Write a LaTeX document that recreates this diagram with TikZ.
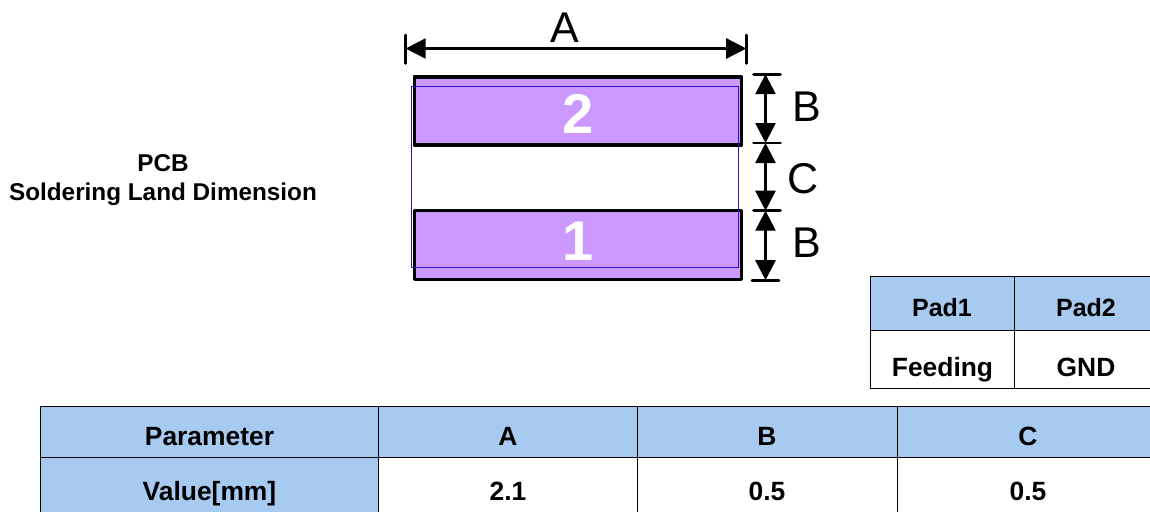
\documentclass[tikz,border=0pt]{standalone}
\usepackage{fontspec}
\setmainfont{Liberation Sans}
\usetikzlibrary{arrows.meta}
\definecolor{headblue}{HTML}{A6CAF0}
\definecolor{padviolet}{HTML}{CC99FF}
\definecolor{outlineblue}{HTML}{2A10C8}
\tikzset{
  pad/.style={draw=black,line width=3.4pt,fill=padviolet,line join=round},
  outlinebox/.style={draw=outlineblue,line width=1pt},
  dimtick/.style={draw=black,line width=2.8pt,line cap=round},
  dimline/.style={draw=black,line width=2.6pt,{Triangle[length=20pt,width=20pt]}-{Triangle[length=20pt,width=20pt]},shorten <=0pt,shorten >=0pt},
  dimlabel/.style={font=\fontsize{43}{43}\selectfont,anchor=base,inner sep=0pt},
  padno/.style={font=\fontsize{56}{56}\selectfont\bfseries,text=white,anchor=base,inner sep=0pt},
  cellh/.style={draw=black,line width=1pt,fill=headblue},
  cellw/.style={draw=black,line width=1pt,fill=white},
  celltext/.style={font=\fontsize{26.4}{26.4}\selectfont\bfseries,anchor=base,inner sep=0pt},
  padtext/.style={font=\fontsize{25}{25}\selectfont\bfseries,anchor=base,inner sep=0pt},
  title/.style={font=\fontsize{24.3}{29}\selectfont\bfseries,align=center,inner sep=0pt,anchor=center}
}
\begin{document}
\begin{tikzpicture}[x=1pt,y=-1pt]
\useasboundingbox[fill=white] (0,0) rectangle (1150,511);
% pads
\path[pad] (414.2,76.8) rectangle (741.6,144.8);
\path[pad] (414.2,210.7) rectangle (741.6,279.2);
\path[outlinebox] (411.5,86.3) rectangle (738.2,267.4);
\node[padno] (n2) at (578.5,133.5) {2};
\node[padno] (n1) at (578,260.5) {1};
% dimension A
\coordinate (al1) at (405.7,35); \coordinate (al2) at (405.7,63.5);
\coordinate (ar1) at (746.2,35); \coordinate (ar2) at (746.2,63.5);
\coordinate (am1) at (405.7,48.5); \coordinate (am2) at (746.2,48.5);
\draw[dimtick] (al1) -- (al2);
\draw[dimtick] (ar1) -- (ar2);
\draw[dimline] (am1) -- (am2);
\node[dimlabel] (la) at (565,42.8) {A};
% dimension B, C, B
\coordinate (t1a) at (753.5,74.2); \coordinate (t1b) at (780.5,74.2);
\coordinate (t2a) at (753.5,143); \coordinate (t2b) at (780.5,143);
\coordinate (t3a) at (753.5,210.7); \coordinate (t3b) at (780.5,210.7);
\coordinate (t4a) at (752,280.2); \coordinate (t4b) at (779,280.2);
\coordinate (v1) at (765.5,74.2); \coordinate (v2) at (765.5,143);
\coordinate (v3) at (765.5,210.7); \coordinate (v4) at (765.5,280.2);
\draw[dimtick] (t1a) -- (t1b);
\draw[dimtick] (t2a) -- (t2b);
\draw[dimtick] (t3a) -- (t3b);
\draw[dimtick] (t4a) -- (t4b);
\draw[dimline] (v1) -- (v2);
\draw[dimline] (v2) -- (v3);
\draw[dimline] (v3) -- (v4);
\node[dimlabel] (lb1) at (806.5,121.7) {B};
\node[dimlabel] (lc) at (803,193.5) {C};
\node[dimlabel] (lb2) at (806.5,257) {B};
% title
\node[title] (ttl) at (163,180.5) {PCB\\Soldering Land Dimension};
% pad table
\path[cellh] (870.5,276.5) rectangle (1014.5,330.5);
\path[cellh] (1014.5,276.5) rectangle (1170,330.5);
\path[cellw] (870.5,330.5) rectangle (1014.5,388.2);
\path[cellw] (1014.5,330.5) rectangle (1170,388.2);
\node[padtext] (p1) at (942,316) {Pad1};
\node[padtext] (p2) at (1086,316) {Pad2};
\node[celltext] (f) at (942.5,376) {Feeding};
\node[celltext] (g) at (1086,376) {GND};
% parameter table
\path[cellh] (40.5,406.5) rectangle (378.5,457.5);
\path[cellh] (378.5,406.5) rectangle (637.7,457.5);
\path[cellh] (637.7,406.5) rectangle (897.5,457.5);
\path[cellh] (897.5,406.5) rectangle (1170,457.5);
\path[cellh] (40.5,457.5) rectangle (378.5,530);
\path[cellw] (378.5,457.5) rectangle (637.7,530);
\path[cellw] (637.7,457.5) rectangle (897.5,530);
\path[cellw] (897.5,457.5) rectangle (1170,530);
\node[celltext] (h0) at (209.5,445) {Parameter};
\node[celltext] (h1) at (508,445) {A};
\node[celltext] (h2) at (767,445) {B};
\node[celltext] (h3) at (1028,445) {C};
\node[celltext] (v0) at (209.5,500) {Value[mm]};
\node[celltext] (v1t) at (508,500) {2.1};
\node[celltext] (v2t) at (767,500) {0.5};
\node[celltext] (v3t) at (1028,500) {0.5};
\end{tikzpicture}
\end{document}
